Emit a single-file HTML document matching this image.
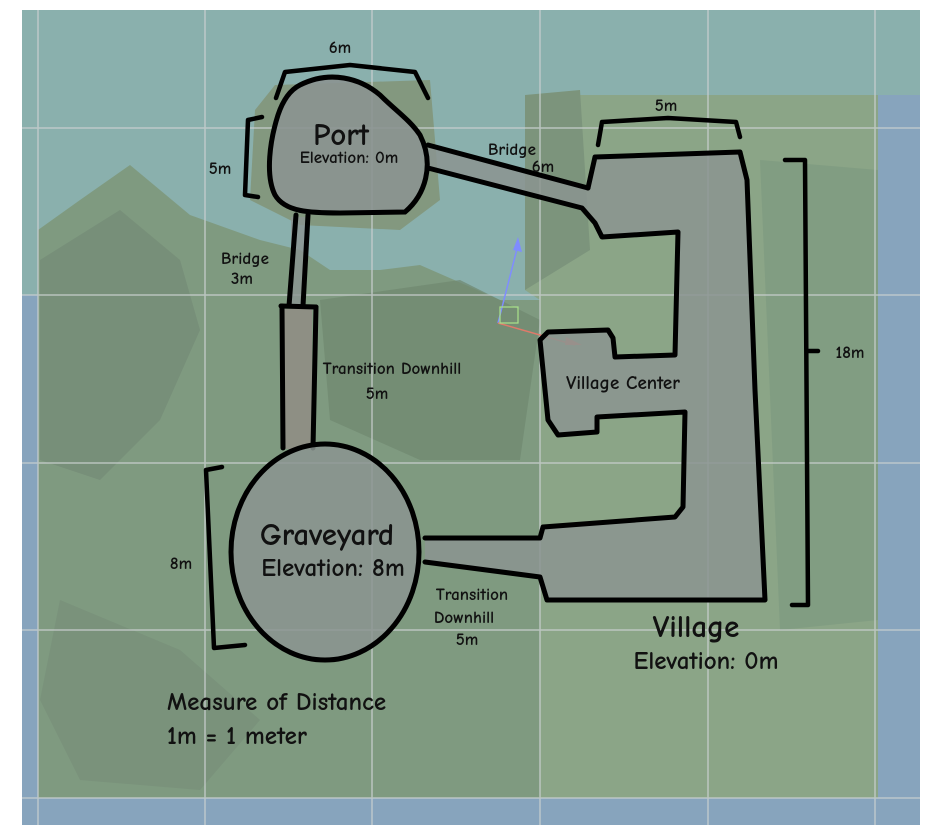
<!DOCTYPE html>
<html><head><meta charset="utf-8"><style>
html,body{margin:0;padding:0;background:#fff;}
svg{display:block;}
text{font-family:"Comic Neue","Liberation Sans",sans-serif;fill:#111;}
</style></head><body>
<svg width="943" height="840" viewBox="0 0 943 840" xmlns="http://www.w3.org/2000/svg">
<rect x="0" y="0" width="943" height="840" fill="#fff"/>
<rect x="22" y="10" width="898" height="815" fill="#8ab0ad"/>
<rect x="878" y="95" width="42" height="730" fill="#87a4bd"/>
<rect x="22" y="295" width="16" height="530" fill="#87a4bd"/>
<rect x="22" y="798" width="898" height="27" fill="#87a4bd"/>
<path d="M525 95 L878 95 L878 798 L540 798 L540 300 L525 290 Z" fill="#8ba587"/>
<path d="M38 230 L80 200 L130 165 L190 215 L260 240 L300 250 L330 270 L380 270 L420 265 L500 300 L540 300 L540 798 L38 798 Z" fill="#7f9a80"/>
<path d="M275 85 L430 80 L440 200 L400 230 L300 225 L250 200 L255 110 Z" fill="#83987f"/>
<path d="M525 95 L580 90 L590 250 L525 290 Z" fill="#7c947c"/>
<path d="M40 260 L120 210 L180 260 L200 330 L160 420 L100 480 L40 460 Z" fill="#768c77" opacity="0.8"/>
<path d="M60 600 L180 650 L260 720 L200 790 L80 780 L40 700 Z" fill="#788e79" opacity="0.7"/>
<path d="M320 300 L460 280 L540 320 L520 460 L420 460 L330 420 Z" fill="#6f886f" opacity="0.7"/>
<path d="M760 160 L878 170 L878 620 L780 630 Z" fill="#7e9a80" opacity="0.7"/>
<g stroke="#c9cfcf" stroke-width="1.5" opacity="0.8">
<line x1="38" y1="10" x2="38" y2="825"/><line x1="205" y1="10" x2="205" y2="825"/>
<line x1="372" y1="10" x2="372" y2="825"/><line x1="540" y1="10" x2="540" y2="825"/>
<line x1="708" y1="10" x2="708" y2="825"/><line x1="875" y1="10" x2="875" y2="825"/>
<line x1="22" y1="128" x2="920" y2="128"/><line x1="22" y1="295" x2="920" y2="295"/>
<line x1="22" y1="463" x2="920" y2="463"/><line x1="22" y1="630" x2="920" y2="630"/>
<line x1="22" y1="798" x2="920" y2="798"/>
</g>
<line x1="498" y1="323" x2="518" y2="245" stroke="#7f8cff" stroke-width="1.5"/>
<path d="M513 250 L518 237 L522 252 Z" fill="#7f8cff"/>
<line x1="498" y1="323" x2="575" y2="345" stroke="#e07a6a" stroke-width="1.5"/>
<path d="M566 337 L582 345 L565 345 Z" fill="#e07a6a"/>
<rect x="500" y="307" width="18" height="16" fill="none" stroke="#a9e28a" stroke-width="1.2"/>

<path d="M595 157 L740 152 L747 180 L755 390 L765 600 L547 600 L540 577 L425 562 L425 538 L540 538 L543 527 L675 517 L683 507 L685 412 L597 417 L597 432 L558 435 L548 420 L540 340 L548 332 L608 330 L613 338 L615 357 L675 355 L678 232 L602 237 L595 223 L582 208 L428 168 L428 145 L588 188 Z" fill="#8b9491" fill-opacity="0.85"/>
<rect x="284" y="309" width="28" height="140" fill="#918d85" opacity="0.85"/>
<rect x="291" y="217" width="14" height="88" fill="#8b9491" opacity="0.8"/>
<g fill="none" stroke="#000" stroke-width="5" stroke-linejoin="round" stroke-linecap="round">
<path d="M588 188 L595 157 L740 152 L747 180 L755 390 L765 600 L547 600 L540 577 L425 562"/>
<path d="M425 538 L540 538 L543 527 L675 517 L683 507 L685 412 L597 417 L597 432 L558 435 L548 420 L540 340 L548 332 L608 330 L613 338 L615 357 L675 355 L678 232 L602 237 L595 223 L582 208 L428 168"/>
<path d="M428 145 L588 188"/>
<path d="M296 215 L289 306" /><path d="M308 215 L303 306"/>
<path d="M281 306 L316 307"/>
<path d="M282 306 L283 448"/><path d="M316 307 L313 448"/>
</g>
<path d="M300 85 C330 70 360 78 380 95 C395 110 410 120 420 135 C435 165 425 195 405 212 L340 213 C310 213 285 212 275 195 C265 175 270 140 278 115 C283 100 290 90 300 85 Z" fill="#8b9491" fill-opacity="0.9" stroke="#000" stroke-width="5"/>
<ellipse cx="325" cy="552" rx="94" ry="108" fill="#8b9491" fill-opacity="0.85" stroke="#000" stroke-width="5"/>
<g fill="none" stroke="#000" stroke-width="4.5" stroke-linecap="round" stroke-linejoin="round">
<path d="M276 98 L285 72 L350 65 L415 72 L428 98"/>
<path d="M262 117 L248 120 L245 195 L258 197"/>
<path d="M598 145 L602 122 L668 118 L736 122 L740 137"/>
<path d="M785 160 L805 160 L808 605 L792 605"/>
<path d="M808 351 L818 351"/>
<path d="M222 467 L206 470 L214 648 L245 645"/>
</g>
<g font-weight="bold">
<text x="340" y="53" font-size="17" text-anchor="middle">6m</text>
<text x="341" y="145" font-size="31" text-anchor="middle">Port</text>
<text x="349" y="163" font-size="17" text-anchor="middle">Elevation: 0m</text>
<text x="220" y="174" font-size="17" text-anchor="middle">5m</text>
<text x="512" y="155" font-size="17" text-anchor="middle">Bridge</text>
<text x="543" y="172" font-size="17" text-anchor="middle">6m</text>
<text x="666" y="111" font-size="17" text-anchor="middle">5m</text>
<text x="245" y="264" font-size="17" text-anchor="middle">Bridge</text>
<text x="242" y="284" font-size="17" text-anchor="middle">3m</text>
<text x="392" y="374" font-size="17" text-anchor="middle">Transition Downhill</text>
<text x="377" y="399" font-size="17" text-anchor="middle">5m</text>
<text x="623" y="389" font-size="19" text-anchor="middle">Village Center</text>
<text x="850" y="358" font-size="17" text-anchor="middle">18m</text>
<text x="181" y="569" font-size="17" text-anchor="middle">8m</text>
<text x="327" y="545" font-size="31" text-anchor="middle">Graveyard</text>
<text x="333" y="576" font-size="25" text-anchor="middle">Elevation: 8m</text>
<text x="472" y="600" font-size="17" text-anchor="middle">Transition</text>
<text x="464" y="623" font-size="17" text-anchor="middle">Downhill</text>
<text x="467" y="645" font-size="17" text-anchor="middle">5m</text>
<text x="696" y="637" font-size="31" text-anchor="middle">Village</text>
<text x="706" y="669" font-size="25" text-anchor="middle">Elevation: 0m</text>
<text x="167" y="710" font-size="25">Measure of Distance</text>
<text x="167" y="744" font-size="25">1m = 1 meter</text>
</g>
</svg>
</body></html>
